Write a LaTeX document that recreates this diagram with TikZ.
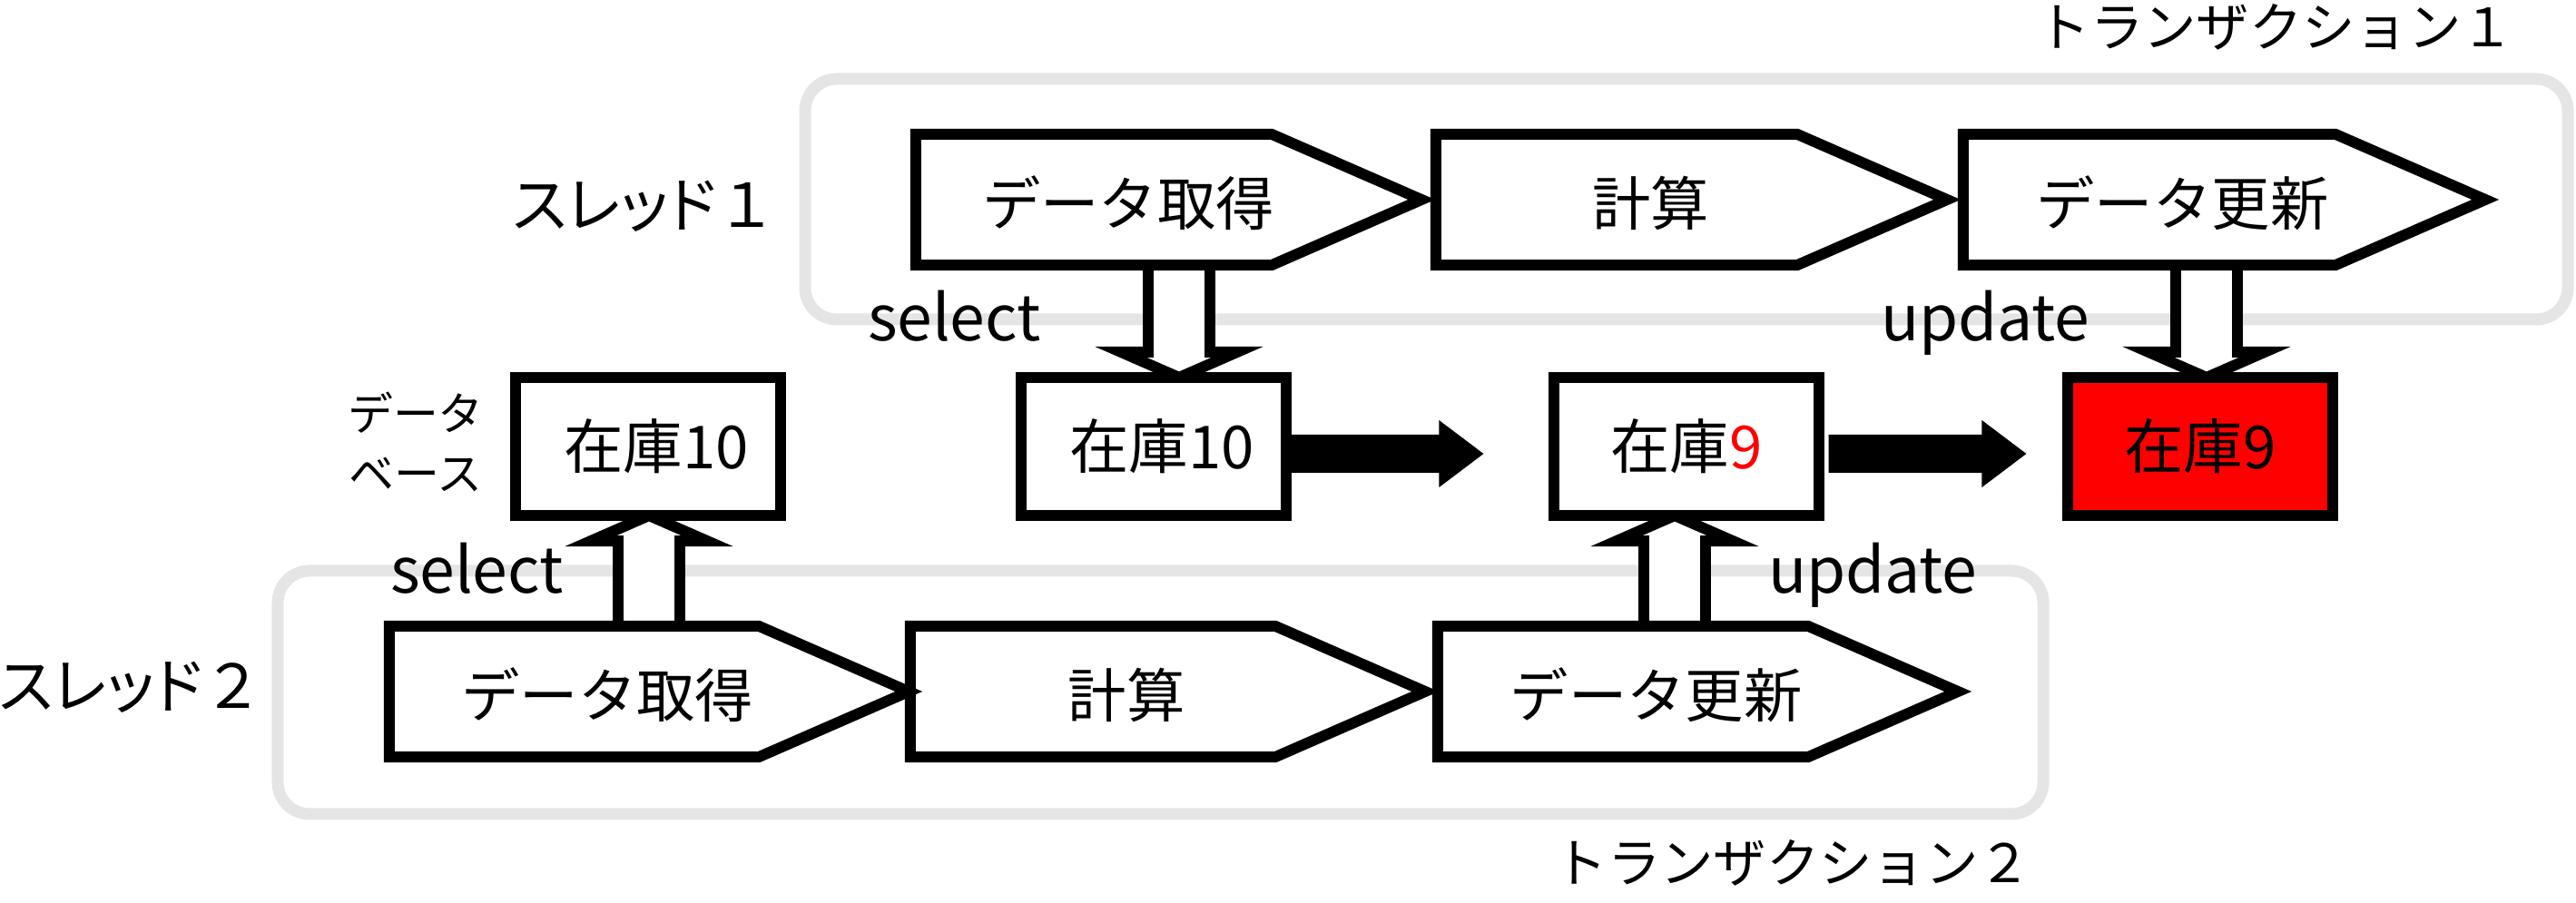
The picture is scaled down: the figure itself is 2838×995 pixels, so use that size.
\documentclass[tikz,border=0pt]{standalone}
\usepackage{fontspec}
\setmainfont{Noto Sans CJK JP}
\newfontfamily\paltfont{Noto Sans CJK JP}[RawFeature=+palt]
\usetikzlibrary{calc}
\pgfdeclarelayer{frames}
\pgfdeclarelayer{arrowsbg}
\pgfsetlayers{frames,arrowsbg,main}
\definecolor{framegray}{HTML}{E5E5E5}
\definecolor{stockred}{HTML}{FF0000}
\newcommand\mypenta[5]{%
  \node[pentarea, minimum width=#4] (#1) at (#2,#3) {};
  \draw[pentline] (#1.north west) -- ($(#1.north east)+(-165,0)$) -- (#1.east) -- ($(#1.south east)+(-165,0)$) -- (#1.south west) -- cycle;
  \node[bodytext] (#1t) at ($(#1.west)!0.42!(#1.east)+(0,4)$) {#5};
}
\newcommand\hollowarrow[3]{%
  \draw[hollow] ($(#1)+(-34,0)$) -- ($(#2)+(-34,#3)$) -- ($(#2)+(-64,#3)$) -- (#2) -- ($(#2)+(64,#3)$) -- ($(#2)+(34,#3)$) -- ($(#1)+(34,0)$);
}
\begin{document}
\begin{tikzpicture}[x=0.01cm, y=-0.01cm,
  framebox/.style={draw=framegray, line width=3.7pt, rounded corners=0.35cm},
  stockbox/.style={draw=black, line width=3.4pt, fill=white, minimum width=2.91cm, minimum height=1.52cm, inner sep=0pt, outer sep=0pt, font=\fontsize{18.6}{22}\selectfont},
  pentarea/.style={inner sep=0pt, outer sep=0pt, minimum height=1.44cm},
  pentline/.style={draw=black, fill=white, line width=3.4pt, line join=miter},
  bodytext/.style={inner sep=0pt, outer sep=0pt, font=\fontsize{18.3}{22}\selectfont},
  optext/.style={inner sep=0pt, outer sep=0pt, anchor=base west, font=\fontsize{19.8}{24}\selectfont},
  threadtext/.style={inner sep=0pt, outer sep=0pt, anchor=east, font=\fontsize{19}{23}\selectfont},
  txtext/.style={inner sep=0pt, outer sep=0pt, anchor=east, font=\fontsize{16.6}{20}\selectfont},
  dbtext/.style={inner sep=0pt, outer sep=0pt, align=center, font=\fontsize{14.2}{18.8}\selectfont},
  hollow/.style={draw=black, fill=white, line width=3.4pt, line join=miter},
  solidarrow/.style={fill=black},
]
\useasboundingbox (0,0) rectangle (2838,995);

% transaction frames
\begin{pgfonlayer}{frames}
\draw[framebox] (887,87) rectangle (2829,352);
\draw[framebox] (306,629) rectangle (2251,897);
\end{pgfonlayer}

% thread 1 steps
\mypenta{p3}{2450.5}{220}{5.75cm}{データ更新}
\mypenta{p2}{1863.5}{220}{5.63cm}{計算}
\mypenta{p1}{1287.5}{220}{5.57cm}{データ取得}
% thread 2 steps
\mypenta{p6}{1870.5}{762}{5.73cm}{データ更新}
\mypenta{p5}{1286.5}{762}{5.67cm}{計算}
\mypenta{p4}{715}{762}{5.72cm}{データ取得}

% stock boxes
\node[stockbox, text width=2.4cm, align=center] (b0) at (714,492) {\hspace*{0.18cm}在庫10};
\node[stockbox, text width=2.4cm, align=center] (b1) at (1271,492) {\hspace*{0.18cm}在庫10};
\node[stockbox] (b2) at (1858,492) {在庫{\color{stockred}9}};
\node[stockbox, fill=stockred] (b3) at (2424,492) {在庫9};

% hollow arrows (select / update)
\coordinate (h1x) at ($(b1.north)+(28,0)$);
\coordinate (h1s) at (h1x |- p1.south);
\coordinate (h2x) at ($(b3.north)+(7,0)$);
\coordinate (h2s) at (h2x |- p3.south);
\coordinate (h3x) at ($(b0.south)+(1,0)$);
\coordinate (h3s) at (h3x |- p4.north);
\coordinate (h4x) at ($(b2.south)+(-13,0)$);
\coordinate (h4s) at (h4x |- p6.north);
\begin{pgfonlayer}{arrowsbg}
\hollowarrow{h1s}{h1x}{-28}
\hollowarrow{h2s}{h2x}{-28}
\hollowarrow{h3s}{h3x}{28}
\hollowarrow{h4s}{h4x}{28}
\end{pgfonlayer}

% solid arrows between stock states
\coordinate (a1s) at ($(b1.east)+(6,8)$);
\coordinate (a1e) at ($(b2.west)+(-78,8)$);
\fill[solidarrow] ($(a1s)+(0,-21)$) -- ($(a1e)+(-49,-21)$) -- ($(a1e)+(-49,-37)$) -- (a1e) -- ($(a1e)+(-49,37)$) -- ($(a1e)+(-49,21)$) -- ($(a1s)+(0,21)$) -- cycle;
\coordinate (a2s) at ($(b2.east)+(11,8)$);
\coordinate (a2e) at ($(b3.west)+(-46,8)$);
\fill[solidarrow] ($(a2s)+(0,-21)$) -- ($(a2e)+(-49,-21)$) -- ($(a2e)+(-49,-37)$) -- (a2e) -- ($(a2e)+(-49,37)$) -- ($(a2e)+(-49,21)$) -- ($(a2s)+(0,21)$) -- cycle;

% labels
\node[optext] (sel1) at (956,376) {select};
\node[optext] (upd1) at (2072,376) {update};
\node[optext] (sel2) at (430,654) {select};
\node[optext] (upd2) at (1948,654) {update};
\node[threadtext] (th1) at (856,227) {{\paltfont スレッド}１};
\node[threadtext] (th2) at (290,757) {{\paltfont スレッド}２};
\node[txtext] (tx1) at (2770,30) {トランザクション１};
\node[txtext] (tx2) at (2238,951) {トランザクション２};
\node[dbtext] (dbl) at (458,487) {データ\\ベース};
\end{tikzpicture}
\end{document}
